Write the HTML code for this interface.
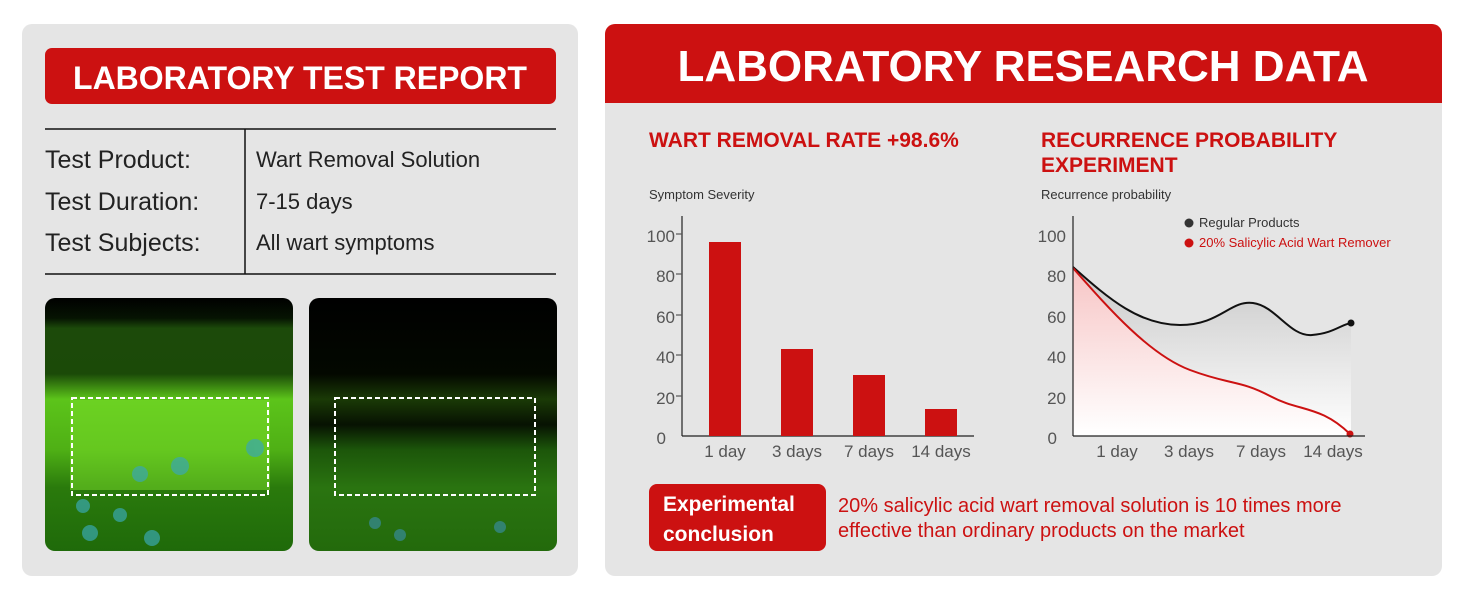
<!DOCTYPE html>
<html><head><meta charset="utf-8"><style>
body{margin:0;width:1464px;height:600px;background:#fff;overflow:hidden;font-family:"Liberation Sans",sans-serif}
</style></head><body>
<svg width="1464" height="600" xmlns="http://www.w3.org/2000/svg" font-family="Liberation Sans, sans-serif">
<defs>
<linearGradient id="gg" x1="0" y1="0" x2="0" y2="1"><stop offset="0" stop-color="#c8c8c8"/><stop offset="1" stop-color="#ffffff"/></linearGradient>
<linearGradient id="rg" x1="0" y1="0" x2="0" y2="1"><stop offset="0" stop-color="#f7c5c5"/><stop offset="1" stop-color="#ffffff"/></linearGradient>
<linearGradient id="g1v" x1="0" y1="0" x2="0" y2="1"><stop offset="0" stop-color="#000"/><stop offset="0.08" stop-color="#061402"/><stop offset="0.12" stop-color="#1c4a0a"/><stop offset="0.3" stop-color="#1b4a08"/><stop offset="0.4" stop-color="#5cc41a"/><stop offset="0.6" stop-color="#4fb015"/><stop offset="0.75" stop-color="#2a7a0c"/><stop offset="1" stop-color="#1f6a0a"/></linearGradient>
<linearGradient id="g2v" x1="0" y1="0" x2="0" y2="1"><stop offset="0" stop-color="#000"/><stop offset="0.3" stop-color="#030800"/><stop offset="0.4" stop-color="#1a3a06"/><stop offset="0.5" stop-color="#071202"/><stop offset="0.6" stop-color="#1c560a"/><stop offset="0.75" stop-color="#2a7410"/><stop offset="1" stop-color="#236a0c"/></linearGradient>
<clipPath id="c1"><rect x="45" y="298" width="248" height="253" rx="10"/></clipPath>
<clipPath id="c2"><rect x="309" y="298" width="248" height="253" rx="10"/></clipPath>
</defs>
<rect x="22" y="24" width="556" height="552" rx="10" fill="#e5e5e5"/>
<rect x="45" y="48" width="511" height="56" rx="7" fill="#cc1111"/>
<text x="300" y="89" text-anchor="middle" font-size="32" font-weight="bold" fill="#fff">LABORATORY TEST REPORT</text>
<line x1="45" y1="129" x2="556" y2="129" stroke="#111" stroke-width="1.5"/>
<line x1="45" y1="274" x2="556" y2="274" stroke="#111" stroke-width="1.5"/>
<line x1="245" y1="129" x2="245" y2="274" stroke="#111" stroke-width="1.5"/>
<g font-size="25" fill="#222"><text x="45" y="168">Test Product:</text><text x="45" y="210">Test Duration:</text><text x="45" y="251">Test Subjects:</text></g>
<g font-size="22" fill="#222"><text x="256" y="167">Wart Removal Solution</text><text x="256" y="209">7-15 days</text><text x="256" y="250">All wart symptoms</text></g>
<g clip-path="url(#c1)"><rect x="45" y="298" width="248" height="253" fill="url(#g1v)"/>
<rect x="70" y="400" width="200" height="90" fill="#7be02a" opacity="0.5"/>
<g fill="#3aa8b0" opacity="0.7"><circle cx="180" cy="466" r="9"/><circle cx="140" cy="474" r="8"/><circle cx="255" cy="448" r="9"/><circle cx="120" cy="515" r="7"/><circle cx="90" cy="533" r="8"/><circle cx="152" cy="538" r="8"/><circle cx="83" cy="506" r="7"/></g>
<rect x="72" y="398" width="196" height="97" fill="none" stroke="#fff" stroke-width="2" stroke-dasharray="5,3"/></g>
<g clip-path="url(#c2)"><rect x="309" y="298" width="248" height="253" fill="url(#g2v)"/>
<g fill="#3a90b0" opacity="0.6"><circle cx="375" cy="523" r="6"/><circle cx="400" cy="535" r="6"/><circle cx="500" cy="527" r="6"/></g>
<rect x="335" y="398" width="200" height="97" fill="none" stroke="#fff" stroke-width="2" stroke-dasharray="5,3"/></g>

<rect x="605" y="24" width="837" height="552" rx="10" fill="#e5e5e5"/>
<path d="M605 103V34a10 10 0 0 1 10-10h817a10 10 0 0 1 10 10v69z" fill="#cc1111"/>
<text x="1023" y="81" text-anchor="middle" font-size="44" font-weight="bold" fill="#fff">LABORATORY RESEARCH DATA</text>
<text x="649" y="147" font-size="21" font-weight="bold" fill="#cc1111">WART REMOVAL RATE +98.6%</text>
<text x="1041" y="147" font-size="21" font-weight="bold" fill="#cc1111">RECURRENCE PROBABILITY</text>
<text x="1041" y="172" font-size="21" font-weight="bold" fill="#cc1111">EXPERIMENT</text>
<text x="649" y="199" font-size="13" fill="#333">Symptom Severity</text>
<text x="1041" y="199" font-size="13" fill="#333">Recurrence probability</text>
<g font-size="17" fill="#555" text-anchor="end"><text x="675" y="242">100</text><text x="675" y="282">80</text><text x="675" y="323">60</text><text x="675" y="363">40</text><text x="675" y="404">20</text><text x="666" y="444">0</text></g>
<g stroke="#222" stroke-width="1.2"><line x1="682" y1="216" x2="682" y2="436"/><line x1="682" y1="436" x2="974" y2="436"/><g stroke="#555"><line x1="676" y1="234" x2="682" y2="234"/><line x1="676" y1="274" x2="682" y2="274"/><line x1="676" y1="315" x2="682" y2="315"/><line x1="676" y1="355" x2="682" y2="355"/><line x1="676" y1="396" x2="682" y2="396"/></g></g>
<g fill="#cc1111"><rect x="709" y="242" width="32" height="194"/><rect x="781" y="349" width="32" height="87"/><rect x="853" y="375" width="32" height="61"/><rect x="925" y="409" width="32" height="27"/></g>
<g font-size="17" fill="#555" text-anchor="middle"><text x="725" y="457">1 day</text><text x="797" y="457">3 days</text><text x="869" y="457">7 days</text><text x="941" y="457">14 days</text></g>
<path d="M1073 267C1110 300 1140 325 1180 325S1230 300 1253 303S1290 337 1312 335S1340 325 1351 323V436H1073Z" fill="url(#gg)"/>
<path d="M1073 268C1110 310 1150 355 1190 370S1240 380 1270 396S1320 405 1350 434H1073Z" fill="url(#rg)"/>
<path d="M1073 267C1110 300 1140 325 1180 325S1230 300 1253 303S1290 337 1312 335S1340 325 1351 323" fill="none" stroke="#111" stroke-width="2"/>
<path d="M1073 268C1110 310 1150 355 1190 370S1240 380 1270 396S1320 405 1350 434" fill="none" stroke="#cc1111" stroke-width="2"/>
<circle cx="1351" cy="323" r="3.5" fill="#111"/><circle cx="1350" cy="434" r="3.5" fill="#cc1111"/>
<g font-size="17" fill="#555" text-anchor="end"><text x="1066" y="242">100</text><text x="1066" y="282">80</text><text x="1066" y="323">60</text><text x="1066" y="363">40</text><text x="1066" y="404">20</text><text x="1057" y="444">0</text></g>
<g stroke="#222" stroke-width="1.2"><line x1="1073" y1="216" x2="1073" y2="436"/><line x1="1073" y1="436" x2="1365" y2="436"/></g>
<g font-size="17" fill="#555" text-anchor="middle"><text x="1117" y="457">1 day</text><text x="1189" y="457">3 days</text><text x="1261" y="457">7 days</text><text x="1333" y="457">14 days</text></g>
<circle cx="1189" cy="223" r="4.5" fill="#333"/><text x="1199" y="227" font-size="13" fill="#333">Regular Products</text>
<circle cx="1189" cy="243" r="4.5" fill="#cc1111"/><text x="1199" y="247" font-size="13" fill="#cc1111">20% Salicylic Acid Wart Remover</text>
<rect x="649" y="484" width="177" height="67" rx="8" fill="#cc1111"/>
<text x="663" y="511" font-size="21" font-weight="bold" fill="#fff">Experimental</text>
<text x="663" y="541" font-size="21" font-weight="bold" fill="#fff">conclusion</text>
<text x="838" y="512" font-size="20" fill="#cc1111">20% salicylic acid wart removal solution is 10 times more</text>
<text x="838" y="537" font-size="20" fill="#cc1111">effective than ordinary products on the market</text>
</svg>
</body></html>
